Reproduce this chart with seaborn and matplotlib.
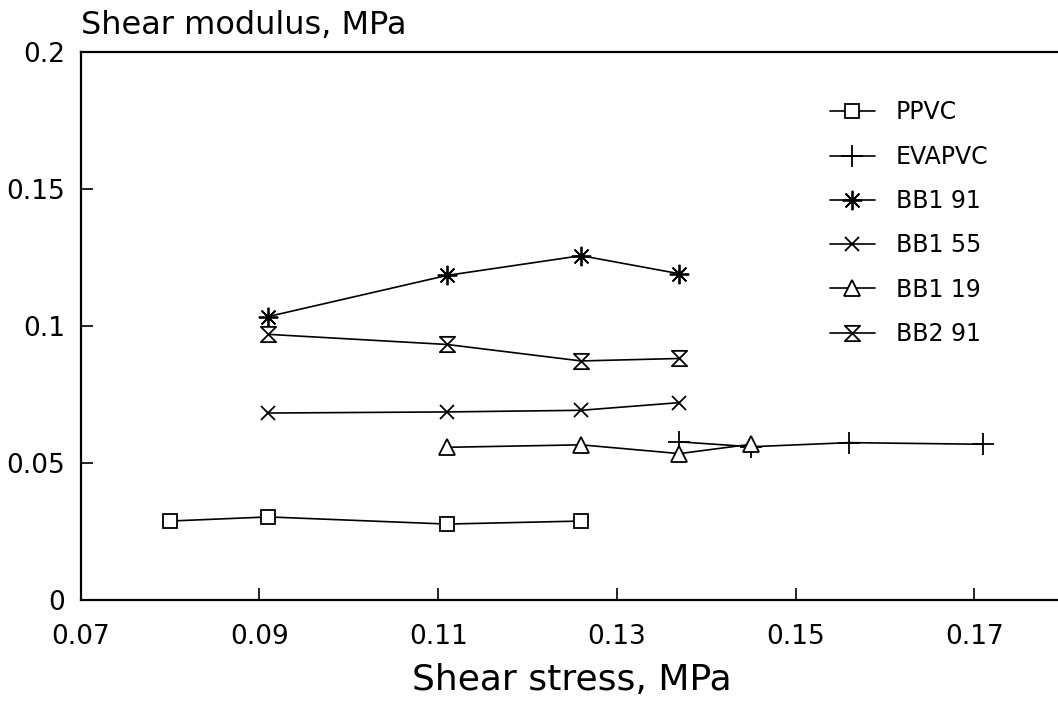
import matplotlib
matplotlib.use("Agg")
import matplotlib.pyplot as plt
from matplotlib.path import Path
import seaborn as sns

# Shear stress (MPa) and shear modulus (MPa) for each material
ppvc_x = [0.080, 0.091, 0.111, 0.126]
ppvc_y = [0.0288, 0.0303, 0.0277, 0.0288]

evapvc_x = [0.137, 0.145, 0.156, 0.171]
evapvc_y = [0.0577, 0.0559, 0.0574, 0.0568]

bb1_91_x = [0.091, 0.111, 0.126, 0.137]
bb1_91_y = [0.1034, 0.1184, 0.1256, 0.1190]

bb1_55_x = [0.091, 0.111, 0.126, 0.137]
bb1_55_y = [0.0682, 0.0686, 0.0692, 0.0720]

bb1_19_x = [0.111, 0.126, 0.137, 0.145]
bb1_19_y = [0.0557, 0.0566, 0.0534, 0.0568]

bb2_91_x = [0.091, 0.111, 0.126, 0.137]
bb2_91_y = [0.0969, 0.0932, 0.0872, 0.0881]

series_names = ["PPVC", "EVAPVC", "BB1 91", "BB1 55", "BB1 19", "BB2 91"]
x_ticks = [0.07, 0.09, 0.11, 0.13, 0.15, 0.17]
x_ticklabels = ["0.07", "0.09", "0.11", "0.13", "0.15", "0.17"]
y_ticks = [0, 0.05, 0.1, 0.15, 0.2]
y_ticklabels = ["0", "0.05", "0.1", "0.15", "0.2"]

sns.set_style("ticks")
plt.rcParams["font.family"] = ["DejaVu Sans"]
plt.rcParams["text.color"] = "black"
plt.rcParams["axes.labelcolor"] = "black"

# hourglass marker (two triangles tip to tip)
hourglass = Path([(-1, 1), (1, 1), (-1, -1), (1, -1), (-1, 1)],
                 [Path.MOVETO, Path.LINETO, Path.LINETO, Path.LINETO, Path.CLOSEPOLY])

series_data = [
    (ppvc_x, ppvc_y, "s", 10),
    (evapvc_x, evapvc_y, "+", 16),
    (bb1_91_x, bb1_91_y, (8, 2, 0), 14),
    (bb1_55_x, bb1_55_y, "x", 10),
    (bb1_19_x, bb1_19_y, "^", 12),
    (bb2_91_x, bb2_91_y, hourglass, 11),
]

fig = plt.figure(figsize=(10.58, 7.05), dpi=100)
ax = fig.add_axes([80.7 / 1058, 105 / 705, 983 / 1058, 548.3 / 705])

for name, (xs, ys, mk, ms) in zip(series_names, series_data):
    sns.lineplot(x=xs, y=ys, ax=ax, color="black", linewidth=1.2,
                 marker=mk, markersize=ms, markerfacecolor="white",
                 markeredgecolor="black", markeredgewidth=1.3, label=name)

ax.set_xlim(0.07, 0.18)
ax.set_ylim(0, 0.2)
ax.set_xticks(x_ticks)
ax.set_xticklabels(x_ticklabels)
ax.set_yticks(y_ticks)
ax.set_yticklabels(y_ticklabels)
ax.tick_params(axis="both", direction="in", length=8.5, width=1.2,
               labelsize=19, color="black", labelcolor="black")
ax.tick_params(axis="x", pad=17)
ax.tick_params(axis="y", pad=11)
for sp in ax.spines.values():
    sp.set_visible(True)
    sp.set_linewidth(1.6)
    sp.set_color("black")

ax.set_xlabel("Shear stress, MPa", fontsize=26, labelpad=10)
ax.set_ylabel("")
ax.set_title("Shear modulus, MPa", loc="left", fontsize=23, pad=13)

ax.legend(loc="upper left", bbox_to_anchor=(0.762, 0.911), frameon=False,
          fontsize=17, handlelength=1.9, handletextpad=0.9, labelspacing=0.86,
          borderpad=0, borderaxespad=0, numpoints=1)

fig.savefig("out.png", dpi=100, facecolor="white")
